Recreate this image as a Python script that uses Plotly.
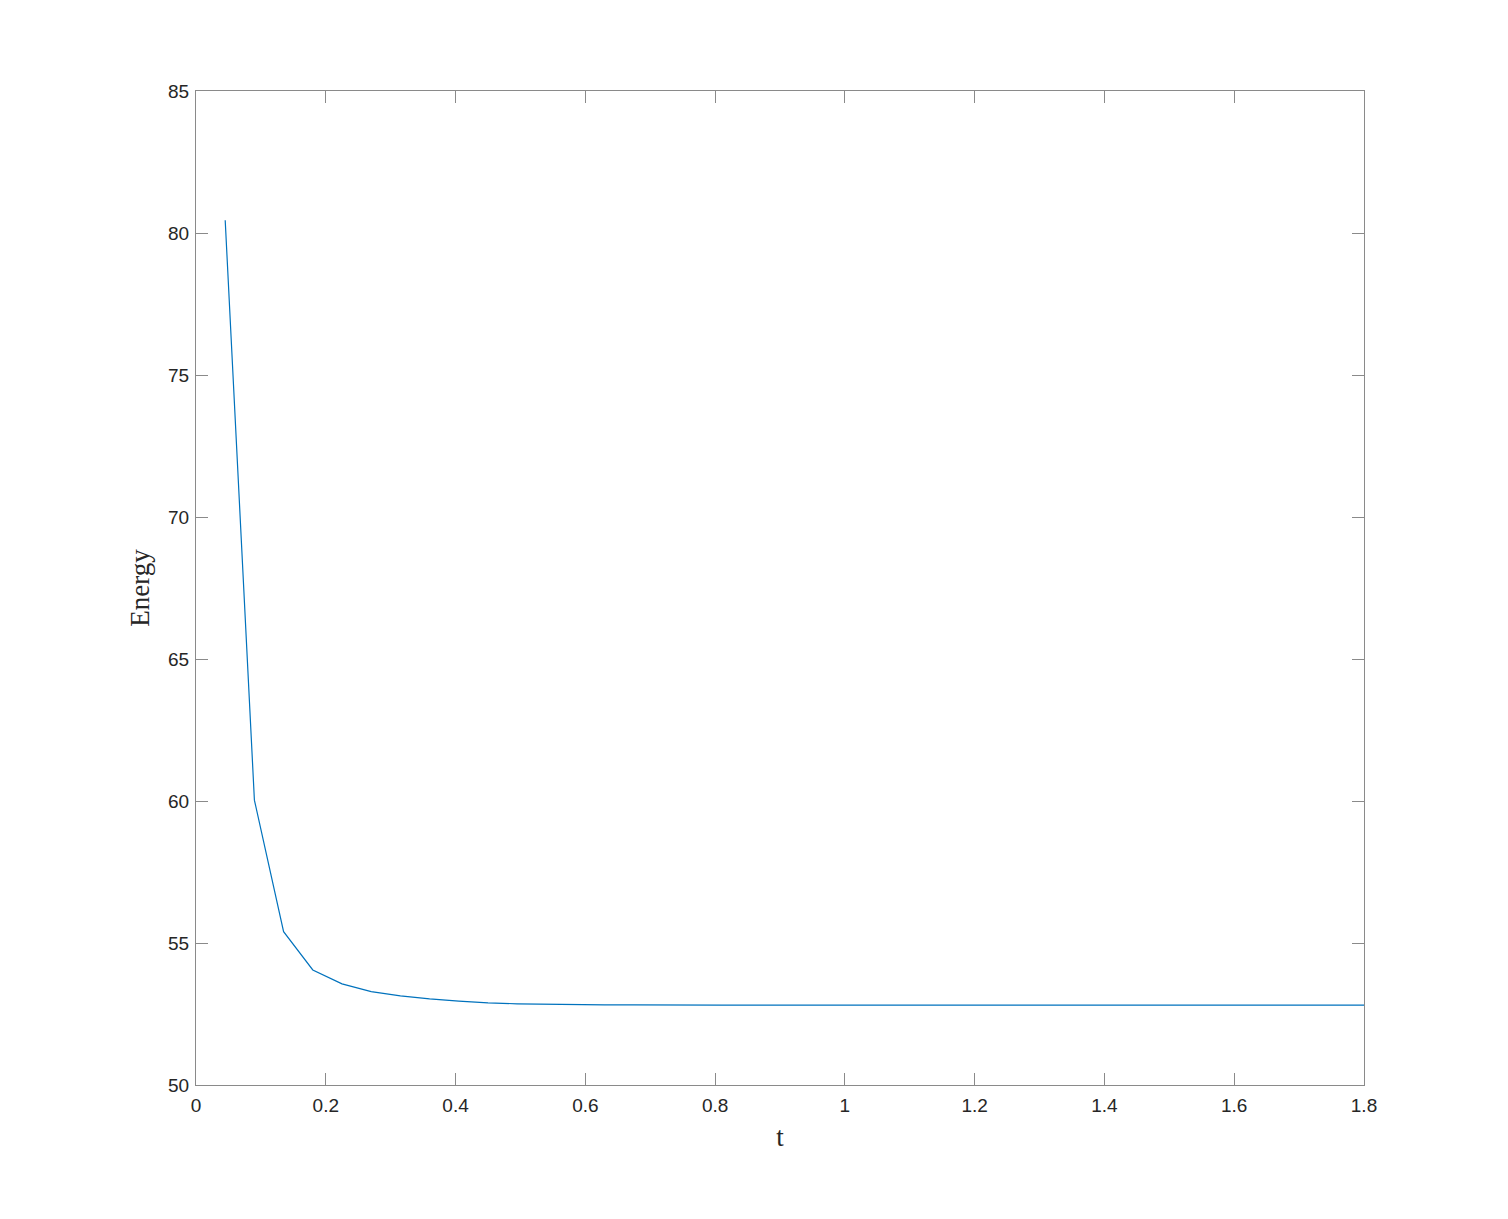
import plotly.graph_objects as go

# time steps (dt = 0.045) and energy readings
t = [0.045 * (i + 1) for i in range(40)]
energy = [80.45, 60.03, 55.40, 54.05, 53.56, 53.29, 53.14, 53.03, 52.95, 52.89,
          52.86, 52.84, 52.83, 52.82, 52.82, 52.81, 52.81, 52.81, 52.81, 52.81,
          52.81, 52.81, 52.81, 52.81, 52.81, 52.81, 52.81, 52.81, 52.81, 52.81,
          52.81, 52.81, 52.81, 52.81, 52.81, 52.81, 52.81, 52.81, 52.81, 52.81]

x_ticks = [0, 0.2, 0.4, 0.6, 0.8, 1, 1.2, 1.4, 1.6, 1.8]
x_labels = ["0", "0.2", "0.4", "0.6", "0.8", "1", "1.2", "1.4", "1.6", "1.8"]
y_ticks = [50, 55, 60, 65, 70, 75, 80, 85]

fig = go.Figure()
fig.add_trace(go.Scatter(x=t, y=energy, mode="lines",
                         line=dict(color="#0072BD", width=1.2), showlegend=False))

axis_style = dict(showline=True, linecolor="#8a8a8a", linewidth=1.3, mirror="ticks",
                  ticks="inside", ticklen=12, tickcolor="#8a8a8a", tickwidth=1.3,
                  showgrid=False, zeroline=False,
                  tickfont=dict(family="Liberation Sans, Arial", size=19, color="#262626"))

fig.update_xaxes(range=[0, 1.8], tickvals=x_ticks, ticktext=x_labels, ticklabelstandoff=3,
                 title=dict(text="t", font=dict(family="Liberation Serif, Times New Roman",
                                                size=27, color="#262626"), standoff=12),
                 **axis_style)
fig.update_yaxes(range=[50, 85], tickvals=y_ticks, ticklabelstandoff=2,
                 title=dict(text="Energy", font=dict(family="Liberation Serif, Times New Roman",
                                                     size=27, color="#262626"), standoff=10),
                 **axis_style)

fig.update_layout(width=1508, height=1219,
                  margin=dict(l=188, r=152, t=83, b=142),
                  plot_bgcolor="white", paper_bgcolor="white")

fig.write_html("out.html")
